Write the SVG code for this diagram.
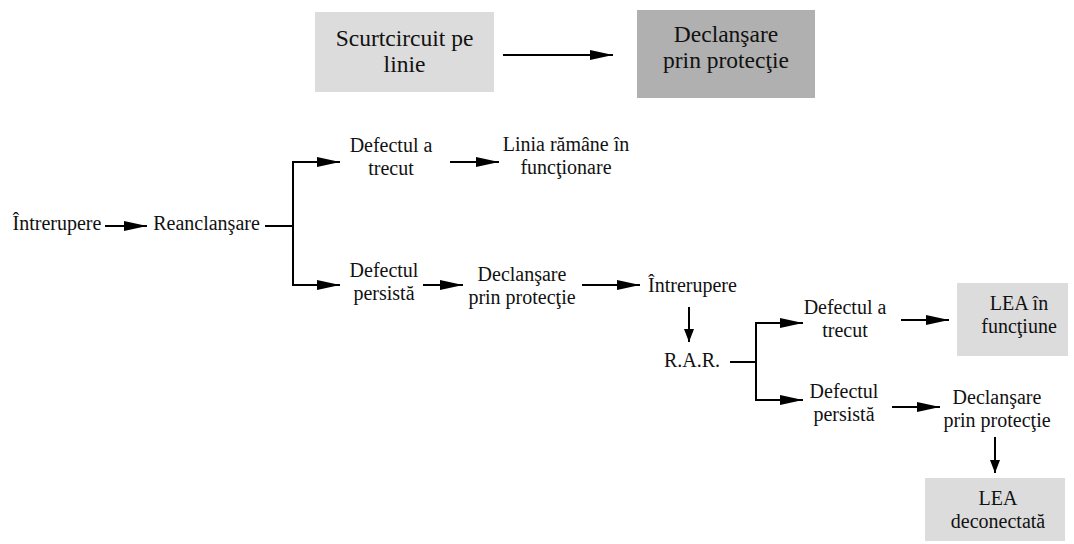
<svg xmlns="http://www.w3.org/2000/svg" width="1074" height="544" viewBox="0 0 1074 544">
<style>
text{fill:#111;text-anchor:middle}
.s{font-family:"Liberation Serif","Times New Roman",Tinos,serif;font-size:20px}
.b{font-family:"Liberation Serif","Times New Roman",Tinos,serif;font-size:23.5px}
.c{fill:none;stroke:#000;stroke-width:2}
.h{marker-end:url(#ah)}
.v{marker-end:url(#av)}
</style>
<defs>
<marker id="ah" markerUnits="userSpaceOnUse" markerWidth="24" markerHeight="12" refX="23" refY="5.5" orient="auto"><path d="M0,0.5 L23,5.5 L0,10.5 Z" fill="#000"/></marker>
<marker id="av" markerUnits="userSpaceOnUse" markerWidth="14" markerHeight="12" refX="13" refY="5.5" orient="auto"><path d="M0,0.5 L13,5.5 L0,10.5 Z" fill="#000"/></marker>
</defs>
<rect width="1074" height="544" fill="#fff"/>
<g id="n1"><rect x="315" y="12" width="179" height="80" fill="#dcdcdc"/><text class="b" x="404.5" y="46">Scurtcircuit pe</text><text class="b" x="404.5" y="72">linie</text></g>
<g id="n2"><rect x="637" y="10" width="178" height="88" fill="#b0b0b0"/><text class="b" x="726" y="42">Declanşare</text><text class="b" x="726" y="68">prin protecţie</text></g>
<g id="n3"><text class="s" x="57" y="230">Întrerupere</text></g>
<g id="n4"><text class="s" x="206.5" y="230">Reanclanşare</text></g>
<g id="n5"><text class="s" x="391" y="152">Defectul a</text><text class="s" x="391" y="175">trecut</text></g>
<g id="n6"><text class="s" x="566" y="151">Linia rămâne în</text><text class="s" x="566" y="174">funcţionare</text></g>
<g id="n7"><text class="s" x="384" y="277">Defectul</text><text class="s" x="384" y="300">persistă</text></g>
<g id="n8"><text class="s" x="522" y="281">Declanşare</text><text class="s" x="522" y="304">prin protecţie</text></g>
<g id="n9"><text class="s" x="692.5" y="292">Întrerupere</text></g>
<g id="n10"><text class="s" x="692" y="367">R.A.R.</text></g>
<g id="n11"><text class="s" x="845" y="314">Defectul a</text><text class="s" x="845" y="337">trecut</text></g>
<g id="n12"><rect x="957" y="283" width="111" height="73" fill="#dcdcdc"/><text class="s" x="1019" y="310">LEA în</text><text class="s" x="1019" y="333">funcţiune</text></g>
<g id="n13"><text class="s" x="844" y="398">Defectul</text><text class="s" x="844" y="421">persistă</text></g>
<g id="n14"><text class="s" x="997" y="404">Declanşare</text><text class="s" x="997" y="427">prin protecţie</text></g>
<g id="n15"><rect x="925" y="478" width="140" height="63" fill="#dcdcdc"/><text class="s" x="998" y="505">LEA</text><text class="s" x="998" y="528">deconectată</text></g>
<g id="connectors">
<path class="c h" d="M503,55 H613"/>
<path class="c h" d="M105,226 H147"/>
<path class="c" d="M265,226 H293"/>
<path class="c h" d="M293,226 V162 H340"/>
<path class="c h" d="M293,226 V285 H340"/>
<path class="c h" d="M450,162 H499"/>
<path class="c h" d="M423,285 H463"/>
<path class="c h" d="M582,285 H640"/>
<path class="c v" d="M689,307 V342"/>
<path class="c" d="M730,362 H756"/>
<path class="c h" d="M756,362 V323 H803"/>
<path class="c h" d="M756,362 V400 H803"/>
<path class="c h" d="M901,320 H949"/>
<path class="c h" d="M892,407 H940"/>
<path class="c v" d="M995,437 V473"/>
</g>
</svg>
